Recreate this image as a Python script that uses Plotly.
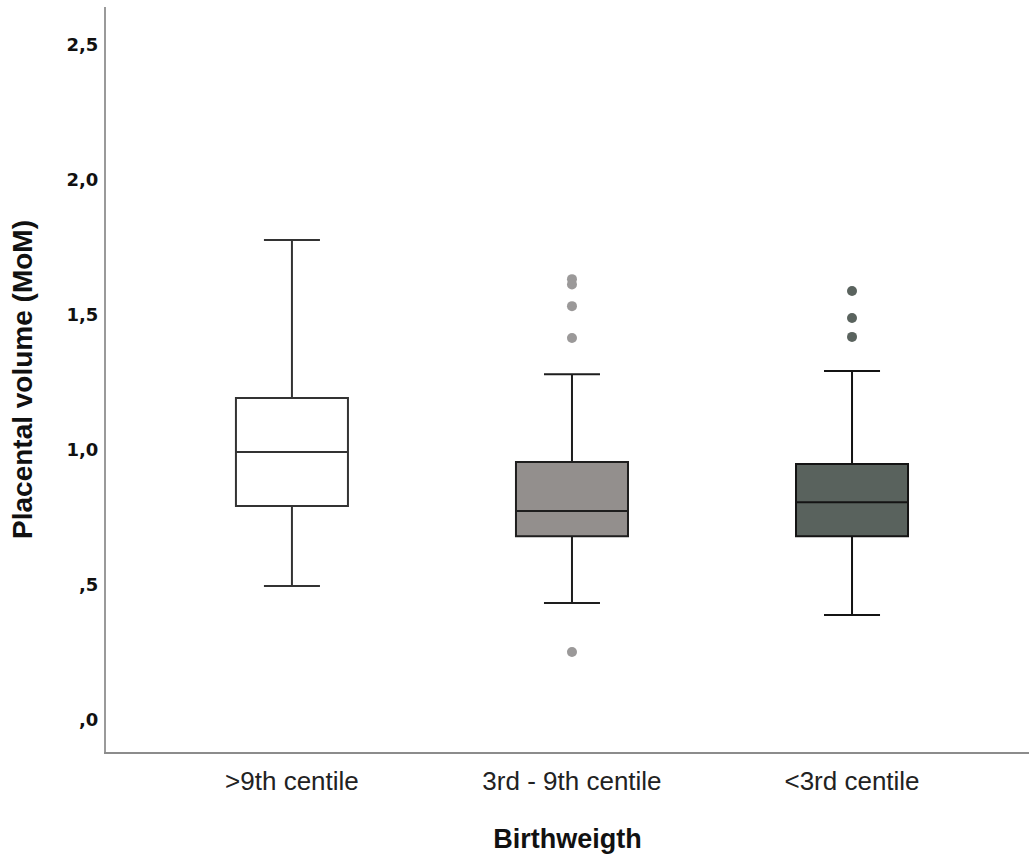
import plotly.graph_objects as go

categories = [">9th centile", "3rd - 9th centile", "<3rd centile"]
q1 = [0.793, 0.681, 0.681]
median = [0.993, 0.774, 0.807]
q3 = [1.193, 0.956, 0.948]
lower_whisker = [0.496, 0.433, 0.389]
upper_whisker = [1.778, 1.281, 1.293]

outliers_mid_y = [1.633, 1.613, 1.533, 1.415, 0.252]
outliers_low_y = [1.589, 1.489, 1.419]

fills = ["#ffffff", "#938f8d", "#59625d"]
line_colors = ["#333333", "#1e1e1e", "#141414"]
outlier_colors = ["#9b9999", "#5a635e"]

ytick_vals = [0.0, 0.5, 1.0, 1.5, 2.0, 2.5]
ytick_text = [",0", ",5", "1,0", "1,5", "2,0", "2,5"]

fig = go.Figure()
for i, cat in enumerate(categories):
    fig.add_trace(go.Box(
        x=[cat], q1=[q1[i]], median=[median[i]], q3=[q3[i]],
        lowerfence=[lower_whisker[i]], upperfence=[upper_whisker[i]],
        fillcolor=fills[i], line=dict(color=line_colors[i], width=2),
        width=0.4, whiskerwidth=0.5, boxpoints=False, showlegend=False,
        hoverinfo="skip",
    ))

fig.add_trace(go.Scatter(
    x=[categories[1]] * len(outliers_mid_y), y=outliers_mid_y, mode="markers",
    marker=dict(color=outlier_colors[0], size=10), showlegend=False,
))
fig.add_trace(go.Scatter(
    x=[categories[2]] * len(outliers_low_y), y=outliers_low_y, mode="markers",
    marker=dict(color=outlier_colors[1], size=10), showlegend=False,
))

fig.update_layout(
    width=1029, height=855,
    margin=dict(l=106, r=0, t=7, b=103),
    paper_bgcolor="white", plot_bgcolor="white",
    font=dict(family="Liberation Sans, Arial, sans-serif", color="#111"),
    xaxis=dict(
        type="category", range=[-0.664, 2.632],
        showline=True, linecolor="#8c8c8c", linewidth=2,
        showgrid=False, zeroline=False,
        ticks="outside", ticklen=5, tickcolor="rgba(0,0,0,0)",
        tickfont=dict(size=26, family="Liberation Sans, Arial", color="#222"),
        title=dict(text="<b>Birthweigth</b>", font=dict(size=27, family="Liberation Sans, Arial"), standoff=34),
    ),
    yaxis=dict(
        range=[-0.1185, 2.641],
        tickvals=ytick_vals, ticktext=ytick_text,
        showline=True, linecolor="#9a9a9a", linewidth=2,
        showgrid=False, zeroline=False,
        ticks="outside", ticklen=2, tickcolor="rgba(0,0,0,0)",
        tickfont=dict(size=18, family="DejaVu Sans, Liberation Sans", color="#111", weight="bold"),
        title=dict(text="<b>Placental volume (MoM)</b>", font=dict(size=28, family="Liberation Sans, Arial"), standoff=26),
    ),
)

fig.write_html("out.html")
